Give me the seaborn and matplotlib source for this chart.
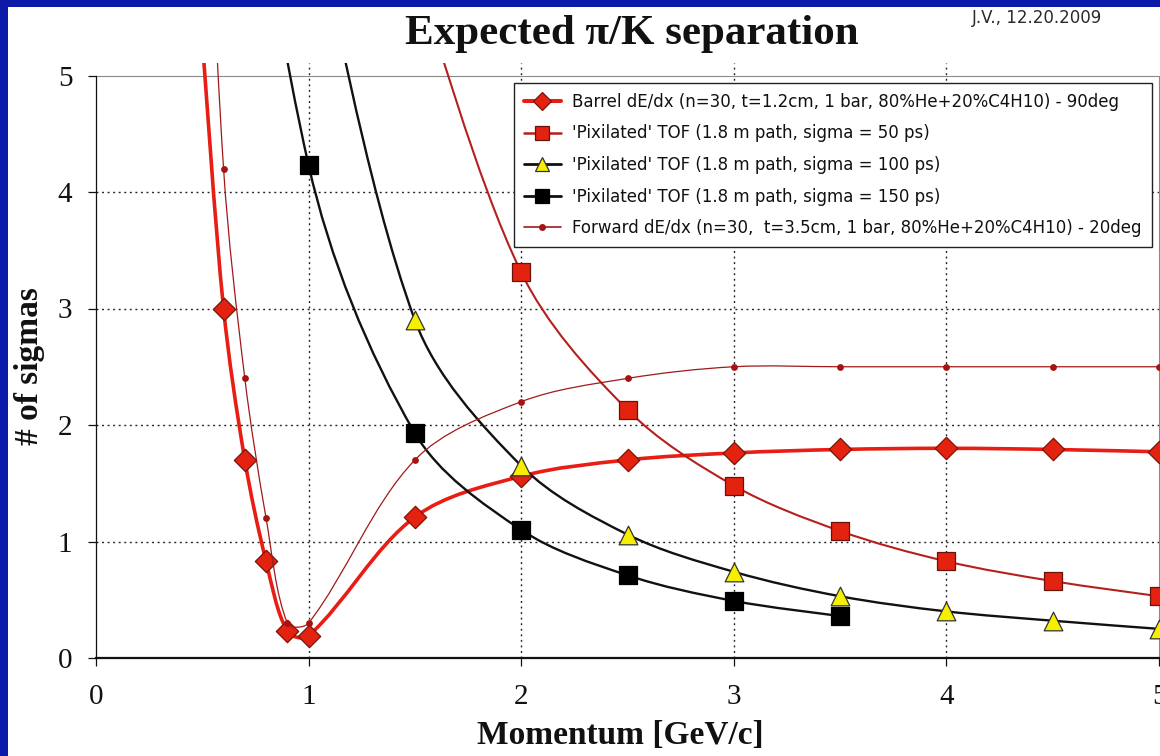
import numpy as np
import matplotlib
matplotlib.use("Agg")
import matplotlib.pyplot as plt
from matplotlib.path import Path
from matplotlib.patches import PathPatch, Rectangle
from matplotlib.lines import Line2D
import seaborn as sns

# ---------------- data ----------------
barrel_x = [0.5, 0.6, 0.7, 0.8, 0.9, 1.0, 1.5, 2.0, 2.5, 3.0, 3.5, 4.0, 4.5, 5.0]
barrel_y = [5.3, 3.00, 1.70, 0.83, 0.23, 0.19, 1.21, 1.56, 1.70, 1.76, 1.79, 1.80, 1.79, 1.77]

tof50_x = [1.5, 2.0, 2.5, 3.0, 3.5, 4.0, 4.5, 5.0]
tof50_y = [5.9, 3.31, 2.13, 1.48, 1.09, 0.83, 0.66, 0.53]

tof100_x = [1.0, 1.5, 2.0, 2.5, 3.0, 3.5, 4.0, 4.5, 5.0]
tof100_y = [6.6, 2.90, 1.65, 1.06, 0.74, 0.53, 0.40, 0.32, 0.25]

tof150_x = [0.5, 1.0, 1.5, 2.0, 2.5, 3.0, 3.5]
tof150_y = [10.0, 4.23, 1.93, 1.10, 0.71, 0.49, 0.36]

fwd_x = [0.5, 0.6, 0.7, 0.8, 0.9, 1.0, 1.5, 2.0, 2.5, 3.0, 3.5, 4.0, 4.5, 5.0]
fwd_y = [8.0, 4.20, 2.40, 1.20, 0.30, 0.30, 1.70, 2.20, 2.40, 2.50, 2.50, 2.50, 2.50, 2.50]

labels = [
    "Barrel dE/dx (n=30, t=1.2cm, 1 bar, 80%He+20%C4H10) - 90deg",
    "'Pixilated' TOF (1.8 m path, sigma = 50 ps)",
    "'Pixilated' TOF (1.8 m path, sigma = 100 ps)",
    "'Pixilated' TOF (1.8 m path, sigma = 150 ps)",
    "Forward dE/dx (n=30,  t=3.5cm, 1 bar, 80%He+20%C4H10) - 20deg",
]
x_ticks = [0, 1, 2, 3, 4, 5]
y_ticks = [0, 1, 2, 3, 4, 5]
title = "Expected \u03c0/K separation"
stamp = "J.V., 12.20.2009"
x_label = "Momentum [GeV/c]"
y_label = "# of sigmas"

# ---------------- style ----------------
sns.set_style("white")
plt.rcParams["font.family"] = ["Liberation Serif", "DejaVu Serif"]

W, H = 1160, 756
fig = plt.figure(figsize=(W / 100, H / 100), dpi=100)
BLUE = "#0b1aa8"
fig.patch.set_facecolor(BLUE)
fig.patches.append(Rectangle((8 / W, 0), 1 - 8 / W, 1 - 7 / H,
                             transform=fig.transFigure, facecolor="white",
                             edgecolor="none", zorder=-10))

ymax = 5.11
ppu_y = 582.5 / 5.0
ppu_x = 1063 / 5.0
ax = fig.add_axes([96 / W, 98 / H, 1063 / W, ymax * ppu_y / H])
ax.set_facecolor("none")
ax.set_xlim(0, 5)
ax.set_ylim(0, ymax)


def smooth_path(xs, ys):
    """Chord-length weighted cubic Bezier smoothing (spreadsheet style)."""
    pts = np.column_stack([xs, ys]).astype(float)
    scale = np.array([ppu_x, ppu_y])
    n = len(pts)
    verts = [pts[0]]
    codes = [Path.MOVETO]
    for i in range(n - 1):
        p0 = pts[i - 1] if i > 0 else pts[i]
        p1 = pts[i]
        p2 = pts[i + 1]
        p3 = pts[i + 2] if i + 2 < n else pts[i + 1]
        d01 = np.linalg.norm((p1 - p0) * scale)
        d12 = np.linalg.norm((p2 - p1) * scale)
        d23 = np.linalg.norm((p3 - p2) * scale)
        f1 = d12 / (3.0 * (d01 + d12)) if (d01 + d12) > 0 else 0
        f2 = d12 / (3.0 * (d12 + d23)) if (d12 + d23) > 0 else 0
        if i == 0:
            f1 = 1.0 / 6.0
        if i + 2 >= n:
            f2 = 1.0 / 6.0
        c1 = p1 + (p2 - p0) * f1
        c2 = p2 - (p3 - p1) * f2
        verts += [c1, c2, p2]
        codes += [Path.CURVE4] * 3
    return Path(verts, codes)


series = [
    dict(x=barrel_x, y=barrel_y, lc="#e81d14", lw=2.6, marker="D", s=130,
         fc="#e3230f", ec="#7a1408", mew=0.9, lms=9),
    dict(x=tof50_x, y=tof50_y, lc="#b5201c", lw=1.5, marker="s", s=170,
         fc="#e3230f", ec="#6a120c", mew=0.9, lms=10),
    dict(x=tof100_x, y=tof100_y, lc="#111111", lw=1.7, marker="^", s=180,
         fc="#f7ef00", ec="#333333", mew=0.9, lms=10),
    dict(x=tof150_x, y=tof150_y, lc="#111111", lw=1.7, marker="s", s=180,
         fc="#000000", ec="#000000", mew=0.9, lms=10),
    dict(x=fwd_x, y=fwd_y, lc="#a01a1a", lw=0.9, marker="o", s=24,
         fc="#a81212", ec="#a81212", mew=0.0, lms=5),
]

handles = []
for i, sd in enumerate(series):
    z = 3 + 2 * i
    patch = PathPatch(smooth_path(sd["x"], sd["y"]), facecolor="none",
                      edgecolor=sd["lc"], lw=sd["lw"], transform=ax.transData,
                      zorder=z, capstyle="round", joinstyle="round")
    ax.add_patch(patch)
    sns.scatterplot(x=sd["x"], y=sd["y"], marker=sd["marker"], s=sd["s"],
                    color=sd["fc"], edgecolor=sd["ec"], linewidth=sd["mew"],
                    ax=ax, zorder=z + 1, legend=False)
    handles.append(Line2D([], [], color=sd["lc"], lw=sd["lw"] + 0.3,
                          marker=sd["marker"], markersize=sd["lms"],
                          markerfacecolor=sd["fc"], markeredgecolor=sd["ec"],
                          markeredgewidth=sd["mew"]))

# grid (dotted) at interior ticks
ax.set_xticks(x_ticks)
ax.set_yticks(y_ticks)
ax.grid(True, color="#222222", linestyle=(0, (1.4, 2.6)), linewidth=1.0)
for gl, v in zip(ax.get_xgridlines(), x_ticks):
    if v in (0, 5):
        gl.set_visible(False)
for gl, v in zip(ax.get_ygridlines(), y_ticks):
    if v in (0, 5):
        gl.set_visible(False)
ax.set_axisbelow(True)

# spines
ax.spines["top"].set_visible(False)
ax.spines["left"].set_bounds(0, 5)
ax.spines["left"].set_color("#111111")
ax.spines["left"].set_linewidth(0.9)
ax.spines["bottom"].set_color("#111111")
ax.spines["bottom"].set_linewidth(1.6)
ax.spines["right"].set_bounds(0, 5)
ax.spines["right"].set_color("#8a8a8a")
ax.spines["right"].set_linewidth(0.8)
ax.axhline(5, color="#8a8a8a", lw=0.8, zorder=2)

ax.tick_params(axis="both", direction="out", length=6, width=0.9,
               color="#111111", labelsize=21, labelcolor="#111111")
ax.tick_params(axis="y", pad=11, left=True)
ax.tick_params(axis="x", pad=13, bottom=True)
ax.set_xticklabels([str(v) for v in x_ticks])
ax.set_yticklabels([str(v) for v in y_ticks])
for lab in ax.get_xticklabels() + ax.get_yticklabels():
    lab.set_clip_on(False)

# texts
fig.text(632 / W, 1 - 34 / H, title, ha="center", va="center",
         fontsize=31, fontweight="bold", color="#111111")
fig.text(972 / W, 1 - 18 / H, stamp, ha="left", va="center",
         fontsize=12, color="#2a2a2a", family=["DejaVu Sans"])
fig.text(620 / W, 1 - 735 / H, x_label, ha="center", va="center",
         fontsize=24, fontweight="bold", color="#111111")
fig.text(30 / W, 1 - 366 / H, y_label, ha="center", va="center",
         rotation=90, fontsize=24, fontweight="bold", color="#111111")

leg = ax.legend(handles, labels, loc="upper right",
                bbox_to_anchor=(1152 / W, 1 - 83 / H),
                bbox_transform=fig.transFigure,
                prop={"family": "DejaVu Sans", "size": 12},
                frameon=True, fancybox=False, framealpha=1.0,
                edgecolor="#222222", borderpad=0.6, labelspacing=0.81,
                handlelength=2.2, handletextpad=0.72, borderaxespad=0)
leg.get_frame().set_linewidth(1.0)
leg.set_zorder(20)
for t in leg.get_texts():
    t.set_color("#111111")

fig.savefig("out.png", dpi=100, facecolor=fig.get_facecolor())
